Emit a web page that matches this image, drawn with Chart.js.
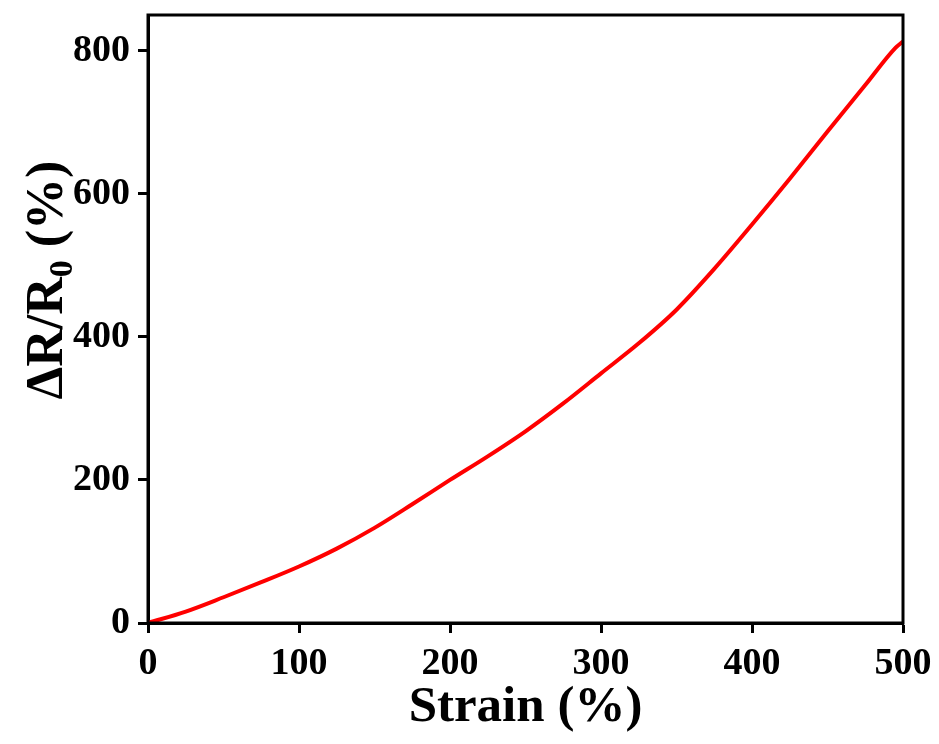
<!DOCTYPE html>
<html lang="en">
<head>
    <meta charset="UTF-8">
    <title>Strain vs dR/R0</title>
    <style>
        html, body { margin: 0; padding: 0; background: #fff; }
        .wrap { width: 939px; height: 744px; }
    </style>
</head>
<body>
    <div class="wrap">
        <canvas id="chart1" width="939" height="744"></canvas>
    </div>
    <script src="https://cdn.jsdelivr.net/npm/chart.js@4/dist/chart.umd.min.js"></script>
    <script>
        // strain (%) vs resistance change (%)
        const strain = [0, 25, 50, 75, 100, 125, 150, 175, 200, 225, 250, 275, 300, 325, 350, 375, 400, 425, 450, 475, 495, 500];
        const resistance = [0, 16, 36, 57, 79, 104, 133, 166, 200, 233, 268, 307, 349, 391, 438, 495, 557, 621, 687, 752, 804, 813];
        const xTicks = [0, 100, 200, 300, 400, 500];
        const yTicks = [0, 200, 400, 600, 800];

        const points = strain.map((v, i) => ({x: v, y: resistance[i]}));
        const fontFamily = "'Liberation Serif', 'Times New Roman', serif";

        // box around the plot + y title with subscript
        const framePlugin = {
            id: 'frame',
            afterDraw(chart) {
                const ctx = chart.ctx;
                const a = chart.chartArea;
                ctx.save();
                ctx.strokeStyle = '#000';
                ctx.lineWidth = 3;
                ctx.strokeRect(a.left, a.top, a.right - a.left, a.bottom - a.top);

                // y axis title: ΔR/R0 (%)
                const big = 'bold 52px ' + fontFamily;
                const small = 'bold 34px ' + fontFamily;
                ctx.font = big;
                const w1 = ctx.measureText('\u0394R/R').width;
                const w3 = ctx.measureText(' (%)').width;
                ctx.font = small;
                const w2 = ctx.measureText('0').width;
                const total = w1 + w2 + w3;
                ctx.translate(62, 280);
                ctx.rotate(-Math.PI / 2);
                ctx.fillStyle = '#000';
                ctx.textBaseline = 'alphabetic';
                ctx.textAlign = 'left';
                let x = -total / 2;
                ctx.font = big;
                ctx.fillText('\u0394R/R', x, 0);
                x += w1;
                ctx.font = small;
                ctx.fillText('0', x, 10);
                x += w2;
                ctx.font = big;
                ctx.fillText(' (%)', x, 0);
                ctx.restore();
            }
        };

        new Chart(chart1, {
            type: 'line',
            data: {
                datasets: [
                    {
                        label: 'dR/R0',
                        data: points,
                        borderColor: '#ff0000',
                        borderWidth: 4,
                        pointRadius: 0,
                        cubicInterpolationMode: 'monotone',
                        fill: false
                    }
                ]
            },
            options: {
                responsive: false,
                animation: false,
                layout: {
                    padding: {top: 15, right: 36, left: 0, bottom: 0}
                },
                plugins: {
                    legend: {display: false},
                    tooltip: {enabled: false}
                },
                scales: {
                    x: {
                        type: 'linear',
                        min: 0,
                        max: 500,
                        afterBuildTicks: s => { s.ticks = xTicks.map(v => ({value: v})); },
                        afterFit: s => { s.height = 121; s.paddingLeft = 0; s.paddingRight = 0; },
                        border: {display: true, color: '#000', width: 3},
                        grid: {drawOnChartArea: false, drawTicks: true, tickLength: 10, tickWidth: 3, tickColor: '#000', color: '#000'},
                        ticks: {color: '#000', padding: 8, maxRotation: 0, font: {family: fontFamily, size: 38, weight: 'bold'}},
                        title: {
                            display: true,
                            text: 'Strain (%)',
                            color: '#000',
                            padding: {top: 0, bottom: 6},
                            font: {family: fontFamily, size: 51, weight: 'bold'}
                        }
                    },
                    y: {
                        min: 0,
                        max: 850,
                        afterBuildTicks: s => { s.ticks = yTicks.map(v => ({value: v})); },
                        afterFit: s => { s.width = 148; s.paddingTop = 0; s.paddingBottom = 0; },
                        border: {display: true, color: '#000', width: 3},
                        grid: {drawOnChartArea: false, drawTicks: true, tickLength: 10, tickWidth: 3, tickColor: '#000', color: '#000'},
                        ticks: {color: '#000', padding: 8, font: {family: fontFamily, size: 38, weight: 'bold'}}
                    }
                }
            },
            plugins: [framePlugin]
        });
    </script>
</body>
</html>
